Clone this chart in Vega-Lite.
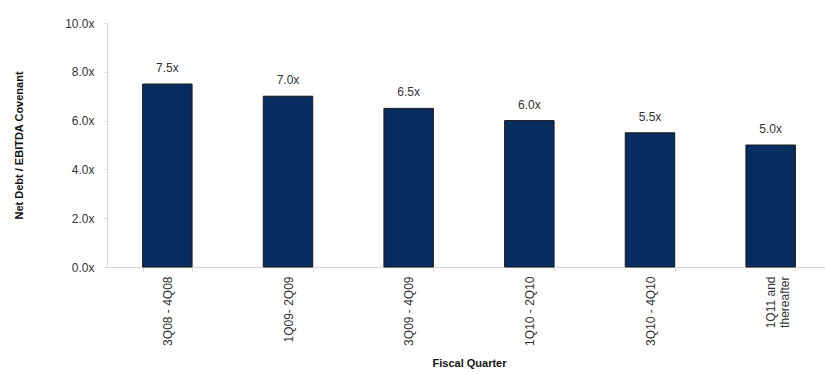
{
  "$schema": "https://vega.github.io/schema/vega-lite/v6.json",
  "autosize": {"type": "none"},
  "width": 724,
  "height": 244,
  "padding": {"left": 107, "top": 23, "right": 0, "bottom": 107},
  "background": "white",
  "config": {"view": {"stroke": null}, "font": "Liberation Sans"},
  "data": {
    "values": [
      {"quarter": "3Q08 - 4Q08", "value": 7.5, "label": "7.5x"},
      {"quarter": "1Q09- 2Q09", "value": 7.0, "label": "7.0x"},
      {"quarter": "3Q09 - 4Q09", "value": 6.5, "label": "6.5x"},
      {"quarter": "1Q10 - 2Q10", "value": 6.0, "label": "6.0x"},
      {"quarter": "3Q10 - 4Q10", "value": 5.5, "label": "5.5x"},
      {"quarter": "1Q11 and thereafter", "value": 5.0, "label": "5.0x"}
    ]
  },
  "layer": [
    {
      "mark": {"type": "bar", "color": "#062c60", "stroke": "#1a1a1a", "strokeWidth": 1},
      "encoding": {
        "x": {
          "field": "quarter", "type": "nominal", "sort": null,
          "scale": {"paddingInner": 0.59, "paddingOuter": 0.295},
          "axis": {
            "title": "Fiscal Quarter", "titleFont": "Liberation Sans", "titleFontSize": 11, "titleFontWeight": "bold",
            "titleColor": "#111", "titlePadding": 12,
            "labelAngle": -90, "labelFontSize": 12, "labelColor": "#333", "labelPadding": 5,
            "labelExpr": "datum.label == '1Q11 and thereafter' ? ['1Q11 and', 'thereafter'] : datum.label",
            "labelLineHeight": 14,
            "tickBand": "extent", "tickColor": "#d8d8d8", "tickSize": 4,
            "domainColor": "#d8d8d8"
          }
        },
        "y": {
          "field": "value", "type": "quantitative",
          "scale": {"domain": [0, 10]},
          "axis": {
            "title": "Net Debt / EBITDA Covenant", "titleFontSize": 11, "titleFontWeight": "bold", "titleColor": "#111",
            "titlePadding": 40,
            "values": [0, 2, 4, 6, 8, 10], "format": ".1f", "labelExpr": "datum.label + 'x'",
            "labelFontSize": 12, "labelColor": "#333", "labelPadding": 10,
            "grid": false, "tickColor": "#d8d8d8", "tickSize": 3, "domainColor": "#d8d8d8"
          }
        }
      }
    },
    {
      "mark": {"type": "text", "dy": -16, "fontSize": 12, "color": "#333"},
      "encoding": {
        "x": {"field": "quarter", "type": "nominal", "sort": null},
        "y": {"field": "value", "type": "quantitative"},
        "text": {"field": "label", "type": "nominal"}
      }
    }
  ]
}
